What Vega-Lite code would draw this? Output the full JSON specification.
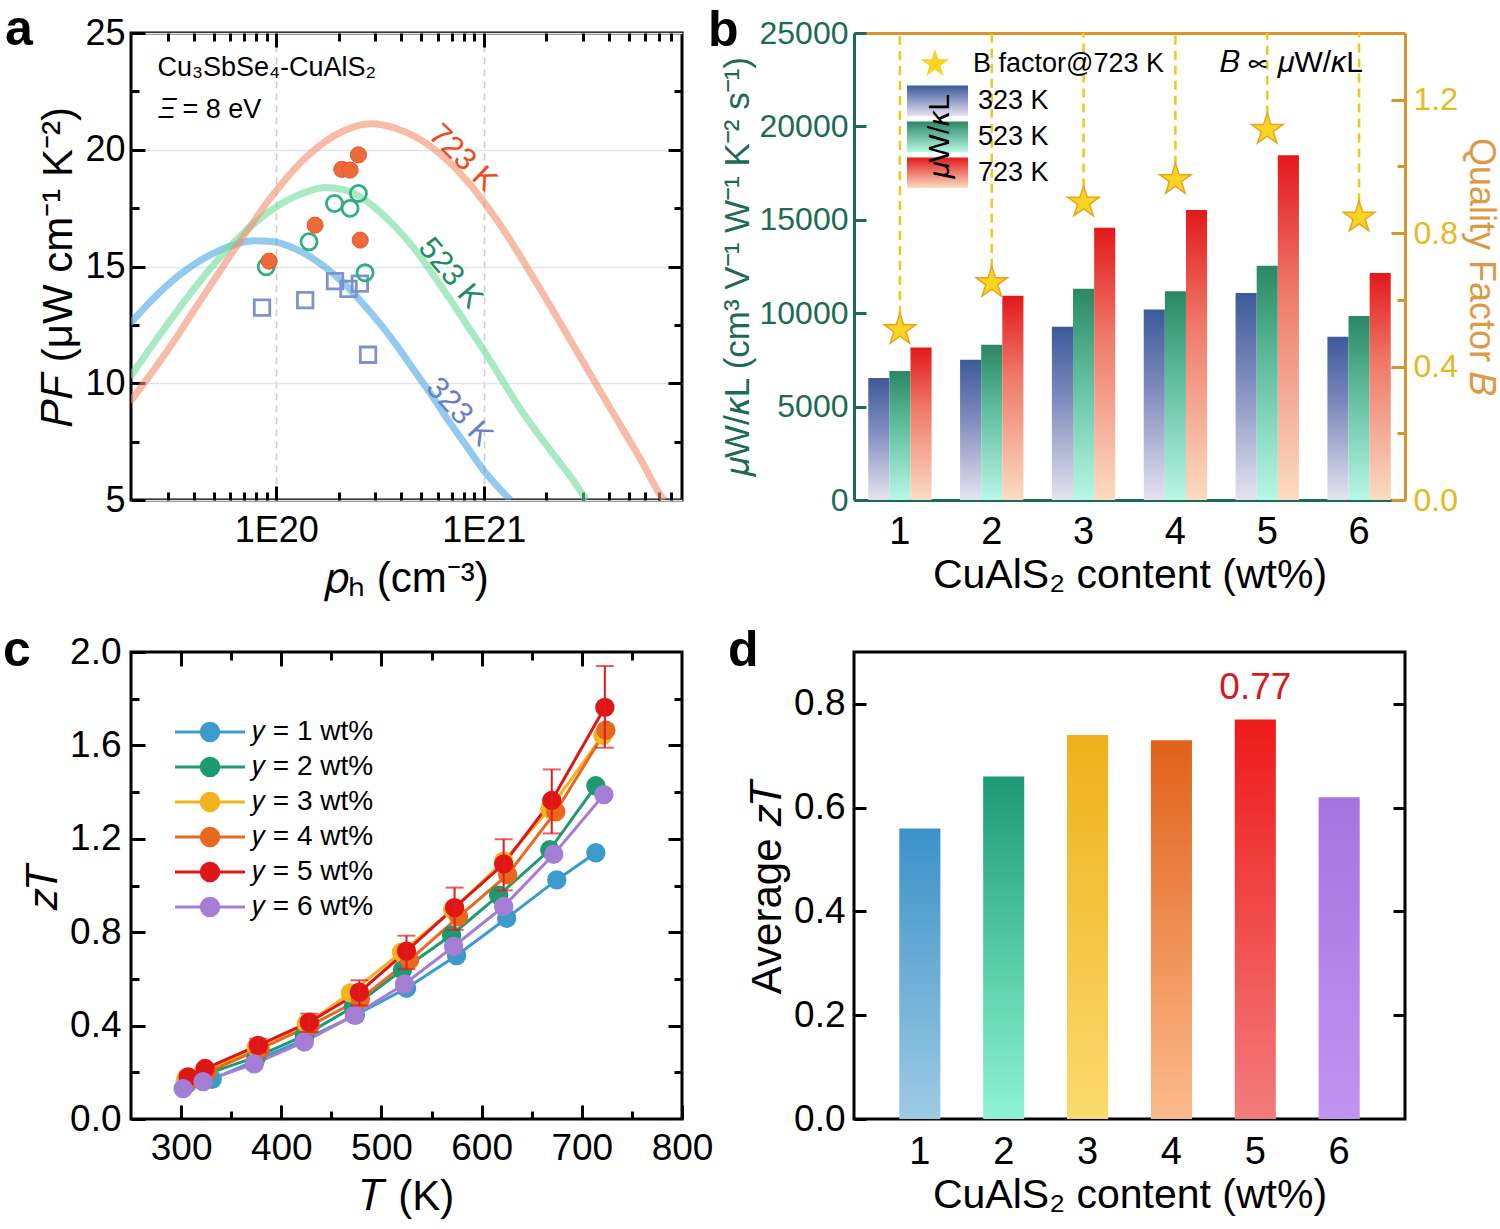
{
  "$schema": "https://vega.github.io/schema/vega-lite/v6.json",
  "background": "white",
  "padding": {"left": 1, "top": 3, "right": 5, "bottom": 5},
  "datasets": {
    "curves": [
      {"T": "323 K", "p": 1.977e19, "pf": 12.55}, {"T": "323 K", "p": 2.408e19, "pf": 13.38},
      {"T": "323 K", "p": 2.93e19, "pf": 14.13}, {"T": "323 K", "p": 3.565e19, "pf": 14.76},
      {"T": "323 K", "p": 4.335e19, "pf": 15.27}, {"T": "323 K", "p": 5.272e19, "pf": 15.67},
      {"T": "323 K", "p": 6.42e19, "pf": 15.96}, {"T": "323 K", "p": 7.81e19, "pf": 16.1},
      {"T": "323 K", "p": 9.5e19, "pf": 16.07}, {"T": "323 K", "p": 1.156e20, "pf": 15.87},
      {"T": "323 K", "p": 1.406e20, "pf": 15.5}, {"T": "323 K", "p": 1.71e20, "pf": 14.99},
      {"T": "323 K", "p": 2.083e20, "pf": 14.34}, {"T": "323 K", "p": 2.535e20, "pf": 13.55},
      {"T": "323 K", "p": 3.083e20, "pf": 12.67}, {"T": "323 K", "p": 3.75e20, "pf": 11.7},
      {"T": "323 K", "p": 4.56e20, "pf": 10.62}, {"T": "323 K", "p": 5.546e20, "pf": 9.55},
      {"T": "323 K", "p": 6.76e20, "pf": 8.4}, {"T": "323 K", "p": 8.22e20, "pf": 7.33},
      {"T": "323 K", "p": 1.0e21, "pf": 6.26}, {"T": "323 K", "p": 1.216e21, "pf": 5.4},
      {"T": "323 K", "p": 1.343e21, "pf": 5.0},
      {"T": "523 K", "p": 1.977e19, "pf": 10.26}, {"T": "523 K", "p": 2.93e19, "pf": 12.41},
      {"T": "523 K", "p": 4.335e19, "pf": 14.41}, {"T": "523 K", "p": 6.42e19, "pf": 16.13},
      {"T": "523 K", "p": 9.5e19, "pf": 17.42}, {"T": "523 K", "p": 1.406e20, "pf": 18.2},
      {"T": "523 K", "p": 1.71e20, "pf": 18.38}, {"T": "523 K", "p": 2.083e20, "pf": 18.3},
      {"T": "523 K", "p": 2.535e20, "pf": 17.99}, {"T": "523 K", "p": 3.083e20, "pf": 17.42},
      {"T": "523 K", "p": 3.75e20, "pf": 16.7}, {"T": "523 K", "p": 4.56e20, "pf": 15.84},
      {"T": "523 K", "p": 5.546e20, "pf": 14.81}, {"T": "523 K", "p": 6.76e20, "pf": 13.7},
      {"T": "523 K", "p": 8.22e20, "pf": 12.55}, {"T": "523 K", "p": 1.0e21, "pf": 11.41},
      {"T": "523 K", "p": 1.216e21, "pf": 10.19}, {"T": "523 K", "p": 1.479e21, "pf": 8.98},
      {"T": "523 K", "p": 1.801e21, "pf": 7.9}, {"T": "523 K", "p": 2.188e21, "pf": 6.9},
      {"T": "523 K", "p": 2.667e21, "pf": 5.9}, {"T": "523 K", "p": 3.119e21, "pf": 5.0},
      {"T": "723 K", "p": 1.977e19, "pf": 9.19}, {"T": "723 K", "p": 2.93e19, "pf": 11.27},
      {"T": "723 K", "p": 4.335e19, "pf": 13.56}, {"T": "723 K", "p": 6.42e19, "pf": 15.84},
      {"T": "723 K", "p": 9.5e19, "pf": 17.99}, {"T": "723 K", "p": 1.406e20, "pf": 19.71},
      {"T": "723 K", "p": 2.083e20, "pf": 20.78}, {"T": "723 K", "p": 2.851e20, "pf": 21.11},
      {"T": "723 K", "p": 3.75e20, "pf": 20.92}, {"T": "723 K", "p": 5.546e20, "pf": 20.14},
      {"T": "723 K", "p": 8.22e20, "pf": 18.71}, {"T": "723 K", "p": 1.216e21, "pf": 16.7},
      {"T": "723 K", "p": 1.801e21, "pf": 14.27}, {"T": "723 K", "p": 2.667e21, "pf": 11.7},
      {"T": "723 K", "p": 3.945e21, "pf": 9.12}, {"T": "723 K", "p": 5.848e21, "pf": 6.55},
      {"T": "723 K", "p": 7.112e21, "pf": 5.19}, {"T": "723 K", "p": 7.4e21, "pf": 5.0}
    ],
    "pts": [
      {"T": "723 K", "p": 9.25e19, "pf": 15.23}, {"T": "723 K", "p": 1.54e20, "pf": 16.77},
      {"T": "723 K", "p": 2.07e20, "pf": 19.16}, {"T": "723 K", "p": 2.27e20, "pf": 19.13},
      {"T": "723 K", "p": 2.49e20, "pf": 19.78}, {"T": "723 K", "p": 2.54e20, "pf": 16.13},
      {"T": "523 K", "p": 8.96e19, "pf": 14.99}, {"T": "523 K", "p": 1.44e20, "pf": 16.06},
      {"T": "523 K", "p": 1.91e20, "pf": 17.7}, {"T": "523 K", "p": 2.27e20, "pf": 17.49},
      {"T": "523 K", "p": 2.49e20, "pf": 18.13}, {"T": "523 K", "p": 2.68e20, "pf": 14.73},
      {"T": "323 K", "p": 8.55e19, "pf": 13.24}, {"T": "323 K", "p": 1.38e20, "pf": 13.56},
      {"T": "323 K", "p": 1.92e20, "pf": 14.37}, {"T": "323 K", "p": 2.23e20, "pf": 14.04},
      {"T": "323 K", "p": 2.53e20, "pf": 14.27}, {"T": "323 K", "p": 2.77e20, "pf": 11.22}
    ],
    "clabels": [
      {"T": "723 K", "p": 7.9e20, "pf": 19.64},
      {"T": "523 K", "p": 6.89e20, "pf": 14.7},
      {"T": "323 K", "p": 7.6e20, "pf": 8.76}
    ],
    "notes": [
      {"p": 2.68e19, "pf": 23.5, "txt": "Cu₃SbSe₄-CuAlS₂"},
      {"p": 2.7e19, "pf": 21.7, "txt": "𝛯 = 8 eV"}
    ],
    "bmob": [
      {"wt": "1", "T": "323 K", "v": 6530}, {"wt": "1", "T": "523 K", "v": 6900}, {"wt": "1", "T": "723 K", "v": 8170},
      {"wt": "2", "T": "323 K", "v": 7510}, {"wt": "2", "T": "523 K", "v": 8310}, {"wt": "2", "T": "723 K", "v": 10940},
      {"wt": "3", "T": "323 K", "v": 9280}, {"wt": "3", "T": "523 K", "v": 11310}, {"wt": "3", "T": "723 K", "v": 14570},
      {"wt": "4", "T": "323 K", "v": 10200}, {"wt": "4", "T": "523 K", "v": 11170}, {"wt": "4", "T": "723 K", "v": 15520},
      {"wt": "5", "T": "323 K", "v": 11080}, {"wt": "5", "T": "523 K", "v": 12540}, {"wt": "5", "T": "723 K", "v": 18450},
      {"wt": "6", "T": "323 K", "v": 8740}, {"wt": "6", "T": "523 K", "v": 9850}, {"wt": "6", "T": "723 K", "v": 12150}
    ],
    "bq": [
      {"wt": "1", "B": 0.51}, {"wt": "2", "B": 0.651}, {"wt": "3", "B": 0.892},
      {"wt": "4", "B": 0.96}, {"wt": "5", "B": 1.11}, {"wt": "6", "B": 0.847}
    ],
    "blegend": [
      {"T": "323 K", "wt": "1", "B": 1.1966},
      {"T": "523 K", "wt": "1", "B": 1.0889},
      {"T": "723 K", "wt": "1", "B": 0.9812}
    ],
    "btexts": [
      {"k": "formula", "wt": "5", "B": 1.31, "txt": "𝐵 ∝ 𝜇W/𝜅L"},
      {"k": "ratio", "wt": "1", "B": 1.089, "txt": "𝜇W/𝜅L"}
    ],
    "zt": [
      {"s": "1", "T": 306, "z": 0.15}, {"s": "1", "T": 331, "z": 0.17}, {"s": "1", "T": 374, "z": 0.25},
      {"s": "1", "T": 423, "z": 0.34}, {"s": "1", "T": 474, "z": 0.445}, {"s": "1", "T": 525, "z": 0.56},
      {"s": "1", "T": 575, "z": 0.7}, {"s": "1", "T": 625, "z": 0.86}, {"s": "1", "T": 675, "z": 1.024},
      {"s": "1", "T": 714, "z": 1.14},
      {"s": "2", "T": 305, "z": 0.166}, {"s": "2", "T": 324, "z": 0.19}, {"s": "2", "T": 375, "z": 0.266},
      {"s": "2", "T": 423, "z": 0.357}, {"s": "2", "T": 472, "z": 0.481}, {"s": "2", "T": 521, "z": 0.639},
      {"s": "2", "T": 570, "z": 0.788}, {"s": "2", "T": 617, "z": 0.958}, {"s": "2", "T": 668, "z": 1.153},
      {"s": "2", "T": 714, "z": 1.427},
      {"s": "3", "T": 305, "z": 0.175}, {"s": "3", "T": 322, "z": 0.2}, {"s": "3", "T": 375, "z": 0.307},
      {"s": "3", "T": 425, "z": 0.407}, {"s": "3", "T": 469, "z": 0.54}, {"s": "3", "T": 520, "z": 0.714},
      {"s": "3", "T": 571, "z": 0.896}, {"s": "3", "T": 622, "z": 1.104}, {"s": "3", "T": 668, "z": 1.328},
      {"s": "3", "T": 721, "z": 1.643},
      {"s": "4", "T": 310, "z": 0.17}, {"s": "4", "T": 326, "z": 0.2}, {"s": "4", "T": 379, "z": 0.3},
      {"s": "4", "T": 429, "z": 0.4}, {"s": "4", "T": 479, "z": 0.514}, {"s": "4", "T": 528, "z": 0.68},
      {"s": "4", "T": 577, "z": 0.866}, {"s": "4", "T": 626, "z": 1.046}, {"s": "4", "T": 674, "z": 1.316},
      {"s": "4", "T": 724, "z": 1.665},
      {"s": "5", "T": 307, "z": 0.18}, {"s": "5", "T": 324, "z": 0.216}, {"s": "5", "T": 377, "z": 0.315},
      {"s": "5", "T": 428, "z": 0.415}, {"s": "5", "T": 478, "z": 0.543}, {"s": "5", "T": 525, "z": 0.719},
      {"s": "5", "T": 573, "z": 0.905}, {"s": "5", "T": 622, "z": 1.092}, {"s": "5", "T": 670, "z": 1.364},
      {"s": "5", "T": 723, "z": 1.763},
      {"s": "6", "T": 302, "z": 0.13}, {"s": "6", "T": 322, "z": 0.16}, {"s": "6", "T": 373, "z": 0.236},
      {"s": "6", "T": 423, "z": 0.33}, {"s": "6", "T": 473, "z": 0.445}, {"s": "6", "T": 523, "z": 0.578},
      {"s": "6", "T": 572, "z": 0.739}, {"s": "6", "T": 622, "z": 0.91}, {"s": "6", "T": 672, "z": 1.134},
      {"s": "6", "T": 722, "z": 1.389}
    ],
    "err": [
      {"T": 377, "lo": 0.285, "hi": 0.344}, {"T": 428, "lo": 0.373, "hi": 0.451},
      {"T": 478, "lo": 0.486, "hi": 0.594}, {"T": 525, "lo": 0.642, "hi": 0.785},
      {"T": 573, "lo": 0.81, "hi": 0.991}, {"T": 622, "lo": 0.979, "hi": 1.198},
      {"T": 670, "lo": 1.223, "hi": 1.497}, {"T": 723, "lo": 1.59, "hi": 1.94}
    ],
    "avg": [
      {"wt": "1", "v": 0.56}, {"wt": "2", "v": 0.66}, {"wt": "3", "v": 0.74},
      {"wt": "4", "v": 0.73}, {"wt": "5", "v": 0.77}, {"wt": "6", "v": 0.62}
    ]
  },
  "concat": [
    {
      "width": 551,
      "height": 467,
      "title": {"text": "a", "frame": "group", "dx": -126, "dy": 44},
      "layer": [
        {
          "layer": [
            {
              "data": {"name": "curves"},
              "mark": {"type": "line", "strokeWidth": 7, "opacity": 0.6, "interpolate": "monotone", "clip": true},
              "encoding": {
                "x": {
                  "field": "p", "type": "quantitative",
                  "scale": {"type": "log", "domain": [2e19, 9e21], "nice": false},
                  "axis": {
                    "title": "𝑝ₕ (cm⁻³)",
                    "values": [3e19, 4e19, 5e19, 6e19, 7e19, 8e19, 9e19, 1e20, 2e20, 3e20, 4e20, 5e20, 6e20, 7e20, 8e20, 9e20, 1e21, 2e21, 3e21, 4e21, 5e21, 6e21, 7e21, 8e21],
                    "labelExpr": "abs(log(datum.value)/LN10 - round(log(datum.value)/LN10)) < 0.01 ? '1E' + round(log(datum.value)/LN10) : ''",
                    "tickSize": {"condition": {"test": "abs(log(datum.value)/LN10 - round(log(datum.value)/LN10)) < 0.01", "value": -14}, "value": -8},
                    "labelPadding": 27,
                    "grid": true, "gridDash": [7, 5], "gridColor": "#cccccc", "gridWidth": 1.5,
                    "gridOpacity": {"condition": {"test": "abs(log(datum.value)/LN10 - round(log(datum.value)/LN10)) < 0.01", "value": 1}, "value": 0}
                  }
                },
                "y": {
                  "field": "pf", "type": "quantitative",
                  "scale": {"domain": [5, 25], "nice": false},
                  "axis": {
                    "title": "𝑃𝐹 (μW cm⁻¹ K⁻²)",
                    "values": [5, 7.5, 10, 12.5, 15, 17.5, 20, 22.5, 25],
                    "labelExpr": "datum.value % 5 == 0 ? format(datum.value, 'd') : ''",
                    "tickSize": {"condition": {"test": "datum.value % 5 == 0", "value": -14}, "value": -8},
                    "labelPadding": 20,
                    "grid": true, "gridColor": "#dde5ee", "gridWidth": 1.5,
                    "gridOpacity": {"condition": {"test": "datum.value % 5 == 0", "value": 1}, "value": 0}
                  }
                },
                "color": {
                  "field": "T", "type": "nominal",
                  "scale": {"domain": ["323 K", "523 K", "723 K"], "range": ["#4aa8e2", "#6edc9c", "#f28f6c"]},
                  "legend": null
                }
              }
            },
            {
              "data": {"name": "pts"},
              "transform": [{"filter": "datum.T === '323 K'"}],
              "mark": {"type": "point", "shape": "square", "filled": false, "size": 240, "strokeWidth": 2.8, "color": "#7d93c9", "opacity": 1},
              "encoding": {"x": {"field": "p", "type": "quantitative"}, "y": {"field": "pf", "type": "quantitative"}}
            },
            {
              "data": {"name": "pts"},
              "transform": [{"filter": "datum.T === '523 K'"}],
              "mark": {"type": "point", "shape": "circle", "filled": false, "size": 260, "strokeWidth": 2.8, "color": "#33ae82", "opacity": 1},
              "encoding": {"x": {"field": "p", "type": "quantitative"}, "y": {"field": "pf", "type": "quantitative"}}
            },
            {
              "data": {"name": "pts"},
              "transform": [{"filter": "datum.T === '723 K'"}],
              "mark": {"type": "point", "shape": "circle", "filled": true, "size": 260, "fill": "#ee6a3a", "stroke": "#e0592a", "strokeWidth": 1, "opacity": 1},
              "encoding": {"x": {"field": "p", "type": "quantitative"}, "y": {"field": "pf", "type": "quantitative"}}
            },
            {
              "data": {"name": "clabels"},
              "transform": [{"filter": "datum.T === '723 K'"}],
              "mark": {"type": "text", "angle": 44, "fontSize": 31, "color": "#f04a1c"},
              "encoding": {"x": {"field": "p", "type": "quantitative"}, "y": {"field": "pf", "type": "quantitative"}, "text": {"field": "T"}}
            },
            {
              "data": {"name": "clabels"},
              "transform": [{"filter": "datum.T === '523 K'"}],
              "mark": {"type": "text", "angle": 50, "fontSize": 31, "color": "#1e8c64"},
              "encoding": {"x": {"field": "p", "type": "quantitative"}, "y": {"field": "pf", "type": "quantitative"}, "text": {"field": "T"}}
            },
            {
              "data": {"name": "clabels"},
              "transform": [{"filter": "datum.T === '323 K'"}],
              "mark": {"type": "text", "angle": 47, "fontSize": 31, "color": "#6a80c0"},
              "encoding": {"x": {"field": "p", "type": "quantitative"}, "y": {"field": "pf", "type": "quantitative"}, "text": {"field": "T"}}
            },
            {
              "data": {"name": "notes"},
              "mark": {"type": "text", "align": "left", "baseline": "middle", "fontSize": 27, "color": "black"},
              "encoding": {"x": {"field": "p", "type": "quantitative"}, "y": {"field": "pf", "type": "quantitative"}, "text": {"field": "txt"}}
            }
          ]
        },
        {
          "data": {"name": "curves"},
          "mark": {"type": "point", "opacity": 0},
          "encoding": {
            "x": {
              "field": "p", "type": "quantitative",
              "axis": {
                "orient": "top", "labels": false, "title": null,
                "values": [3e19, 4e19, 5e19, 6e19, 7e19, 8e19, 9e19, 1e20, 2e20, 3e20, 4e20, 5e20, 6e20, 7e20, 8e20, 9e20, 1e21, 2e21, 3e21, 4e21, 5e21, 6e21, 7e21, 8e21],
                "tickSize": {"condition": {"test": "abs(log(datum.value)/LN10 - round(log(datum.value)/LN10)) < 0.01", "value": -14}, "value": -8}
              }
            },
            "y": {
              "field": "pf", "type": "quantitative",
              "axis": {
                "orient": "right", "labels": false, "title": null,
                "values": [7.5, 10, 12.5, 15, 17.5, 20, 22.5],
                "tickSize": {"condition": {"test": "datum.value % 5 == 0", "value": -14}, "value": -8}
              }
            }
          }
        }
      ],
      "resolve": {"axis": {"x": "independent", "y": "independent"}}
    },
    {
      "width": 551,
      "height": 467,
      "title": {"text": "b", "frame": "group", "dx": -146, "dy": 43},
      "view": {"stroke": null},
      "layer": [
        {
          "data": {"name": "bmob"},
          "encoding": {
            "x": {
              "field": "wt", "type": "nominal",
              "scale": {"paddingInner": 0.31, "paddingOuter": 0.155},
              "axis": {"title": "CuAlS₂ content (wt%)", "labelAngle": 0, "ticks": false, "domain": true, "domainColor": "#1d6b55", "domainWidth": 3, "labelFontSize": 38, "labelPadding": 13, "titleFontSize": 41}
            },
            "xOffset": {"field": "T", "type": "nominal", "scale": {"domain": ["323 K", "523 K", "723 K"], "paddingInner": 0, "paddingOuter": 0}},
            "y": {
              "field": "v", "type": "quantitative",
              "scale": {"domain": [0, 25000]},
              "axis": {
                "title": "𝜇W/𝜅L (cm³ V⁻¹ W⁻¹ K⁻² s⁻¹)",
                "values": [0, 5000, 10000, 15000, 20000, 25000], "format": "d",
                "tickSize": -12, "tickColor": "#1d6b55", "labelPadding": 18,
                "domain": true, "domainColor": "#1d6b55", "domainWidth": 3,
                "labelColor": "#1d6b55", "titleColor": "#1d6b55", "labelFontSize": 32, "titleFontSize": 35
              }
            }
          },
          "layer": [
            {
              "transform": [{"filter": "datum.T === '323 K'"}],
              "mark": {"type": "bar", "fill": {"gradient": "linear", "x1": 0, "y1": 0, "x2": 0, "y2": 1, "stops": [{"offset": 0, "color": "#3c5a9c"}, {"offset": 0.4, "color": "#7b88bb"}, {"offset": 1, "color": "#e6e3f0"}]}}
            },
            {
              "transform": [{"filter": "datum.T === '523 K'"}],
              "mark": {"type": "bar", "fill": {"gradient": "linear", "x1": 0, "y1": 0, "x2": 0, "y2": 1, "stops": [{"offset": 0, "color": "#2b8765"}, {"offset": 0.4, "color": "#5dbb9b"}, {"offset": 1, "color": "#b8f7e6"}]}}
            },
            {
              "transform": [{"filter": "datum.T === '723 K'"}],
              "mark": {"type": "bar", "fill": {"gradient": "linear", "x1": 0, "y1": 0, "x2": 0, "y2": 1, "stops": [{"offset": 0, "color": "#e3191b"}, {"offset": 0.4, "color": "#ef7a6a"}, {"offset": 1, "color": "#fbdcc2"}]}}
            }
          ]
        },
        {
          "data": {"name": "bq"},
          "encoding": {
            "x": {"field": "wt", "type": "nominal", "axis": {"orient": "top", "labels": false, "ticks": false, "title": null, "domain": true, "domainColor": "#d8952e", "domainWidth": 3}},
            "y": {
              "field": "B", "type": "quantitative",
              "scale": {"domain": [0, 1.4]},
              "axis": {
                "orient": "right", "title": "Quality Factor 𝐵",
                "values": [0, 0.2, 0.4, 0.6, 0.8, 1, 1.2],
                "labelExpr": "round(datum.value*10) % 4 == 0 ? format(datum.value, '.1f') : ''",
                "tickSize": {"condition": {"test": "round(datum.value*10) % 4 == 0", "value": -14}, "value": -8},
                "labelPadding": 22, "titlePadding": 4,
                "tickColor": "#d8952e", "domain": true, "domainColor": "#d8952e", "domainWidth": 3,
                "labelColor": "#e8b820", "titleColor": "#dc9a45", "labelFontSize": 32, "titleFontSize": 36
              }
            }
          },
          "layer": [
            {
              "mark": {"type": "rule", "strokeDash": [9, 6], "color": "#f5c51a", "strokeWidth": 2.5},
              "encoding": {"y2": {"datum": 1.4}}
            },
            {
              "mark": {"type": "point", "filled": true, "fill": "#f9d423", "stroke": "#e6a51c", "strokeWidth": 1.5, "size": 1100, "opacity": 1},
              "encoding": {
                "shape": {
                  "datum": "B factor@723 K", "type": "nominal",
                  "scale": {"range": ["M0,-1L0.2245,-0.309L0.9511,-0.309L0.3633,0.118L0.5878,0.809L0,0.382L-0.5878,0.809L-0.3633,0.118L-0.9511,-0.309L-0.2245,-0.309Z"]},
                  "legend": {"orient": "none", "legendX": 65, "legendY": 15, "title": null, "symbolSize": 900, "symbolFillColor": "#f9d423", "symbolStrokeColor": "#e6a51c", "symbolOpacity": 1, "labelFontSize": 27, "labelOffset": 22}
                }
              }
            },
            {
              "data": {"name": "blegend"},
              "transform": [{"filter": "datum.T === '323 K'"}],
              "mark": {"type": "point", "shape": "M-1,-0.5H1V0.5H-1Z", "size": 3721, "filled": true, "opacity": 1, "strokeWidth": 0, "fill": {"gradient": "linear", "x1": 0, "y1": 0, "x2": 0, "y2": 1, "stops": [{"offset": 0, "color": "#3c5a9c"}, {"offset": 1, "color": "#e6e3f0"}]}},
              "encoding": {"x": {"field": "wt", "type": "nominal", "bandPosition": 1.093}}
            },
            {
              "data": {"name": "blegend"},
              "transform": [{"filter": "datum.T === '523 K'"}],
              "mark": {"type": "point", "shape": "M-1,-0.5H1V0.5H-1Z", "size": 3721, "filled": true, "opacity": 1, "strokeWidth": 0, "fill": {"gradient": "linear", "x1": 0, "y1": 0, "x2": 0, "y2": 1, "stops": [{"offset": 0, "color": "#2b8765"}, {"offset": 1, "color": "#b8f7e6"}]}},
              "encoding": {"x": {"field": "wt", "type": "nominal", "bandPosition": 1.093}}
            },
            {
              "data": {"name": "blegend"},
              "transform": [{"filter": "datum.T === '723 K'"}],
              "mark": {"type": "point", "shape": "M-1,-0.5H1V0.5H-1Z", "size": 3721, "filled": true, "opacity": 1, "strokeWidth": 0, "fill": {"gradient": "linear", "x1": 0, "y1": 0, "x2": 0, "y2": 1, "stops": [{"offset": 0, "color": "#e3191b"}, {"offset": 1, "color": "#fbdcc2"}]}},
              "encoding": {"x": {"field": "wt", "type": "nominal", "bandPosition": 1.093}}
            },
            {
              "data": {"name": "blegend"},
              "mark": {"type": "text", "align": "left", "baseline": "middle", "fontSize": 27, "color": "black"},
              "encoding": {"x": {"field": "wt", "type": "nominal", "bandPosition": 1.733}, "text": {"field": "T"}}
            },
            {
              "data": {"name": "btexts"},
              "transform": [{"filter": "datum.k === 'ratio'"}],
              "mark": {"type": "text", "fontSize": 30, "color": "black", "baseline": "middle", "align": "center", "angle": 270},
              "encoding": {"x": {"field": "wt", "type": "nominal", "bandPosition": 1.13}, "text": {"field": "txt"}}
            },
            {
              "data": {"name": "btexts"},
              "transform": [{"filter": "datum.k === 'formula'"}],
              "mark": {"type": "text", "fontSize": 30, "color": "black", "baseline": "middle"},
              "encoding": {"x": {"field": "wt", "type": "nominal", "bandPosition": 0.88}, "text": {"field": "txt"}}
            }
          ]
        }
      ],
      "resolve": {"scale": {"y": "independent"}, "axis": {"x": "independent", "y": "independent"}}
    },
    {
      "width": 551,
      "height": 467,
      "title": {"text": "c", "frame": "group", "dx": -128, "dy": 47},
      "layer": [
        {
          "data": {"name": "zt"},
          "encoding": {
            "x": {
              "field": "T", "type": "quantitative",
              "scale": {"domain": [250, 800]},
              "axis": {
                "title": "𝑇 (K)",
                "values": [300, 350, 400, 450, 500, 550, 600, 650, 700, 750, 800],
                "labelExpr": "datum.value % 100 == 0 ? datum.value : ''",
                "tickSize": {"condition": {"test": "datum.value % 100 == 0", "value": -14}, "value": -8},
                "labelPadding": 25,
                "labelFontSize": 37, "titleFontSize": 42
              }
            },
            "y": {
              "field": "z", "type": "quantitative",
              "scale": {"domain": [0, 2]},
              "axis": {
                "title": "𝑧𝑇",
                "values": [0, 0.2, 0.4, 0.6, 0.8, 1, 1.2, 1.4, 1.6, 1.8, 2],
                "labelExpr": "round(datum.value*10) % 4 == 0 ? format(datum.value, '.1f') : ''",
                "tickSize": {"condition": {"test": "round(datum.value*10) % 4 == 0", "value": -14}, "value": -8},
                "labelPadding": 24,
                "labelFontSize": 37, "titleFontSize": 42
              }
            }
          },
          "layer": [
            {
              "mark": {"type": "line", "strokeWidth": 3},
              "encoding": {
                "stroke": {
                  "field": "s", "type": "nominal",
                  "scale": {"domain": ["1", "2", "3", "4", "5", "6"], "range": ["#3a9bcc", "#1d9a72", "#f2b41e", "#e8681e", "#e01616", "#a47ed4"]},
                  "legend": {
                    "orient": "none", "legendX": 60, "legendY": 61, "title": null,
                    "labelExpr": "'𝑦 = ' + datum.label + ' wt%'",
                    "symbolType": "M-2,0H2M0.5,0A0.5,0.5,0,1,1,-0.5,0A0.5,0.5,0,1,1,0.5,0",
                    "symbolSize": 1225, "symbolStrokeWidth": 3, "symbolOpacity": 1,
                    "labelFontSize": 28, "rowPadding": 1, "labelOffset": 23
                  }
                }
              }
            },
            {
              "mark": {"type": "point", "shape": "circle", "filled": true, "size": 320, "opacity": 1, "strokeWidth": 1.5},
              "encoding": {
                "fill": {
                  "field": "s", "type": "nominal",
                  "scale": {"domain": ["1", "2", "3", "4", "5", "6"], "range": ["#3a9bcc", "#1d9a72", "#f2b41e", "#e8681e", "#e01616", "#a47ed4"]},
                  "legend": null
                },
                "stroke": {"field": "s", "type": "nominal"}
              }
            },
            {
              "data": {"name": "err"},
              "mark": {"type": "rule", "color": "#e01b1b", "strokeWidth": 2},
              "encoding": {"y": {"field": "lo", "type": "quantitative"}, "y2": {"field": "hi"}}
            },
            {
              "data": {"name": "err"},
              "mark": {"type": "tick", "orient": "horizontal", "color": "#e01b1b", "size": 18, "thickness": 2},
              "encoding": {"y": {"field": "lo", "type": "quantitative"}}
            },
            {
              "data": {"name": "err"},
              "mark": {"type": "tick", "orient": "horizontal", "color": "#e01b1b", "size": 18, "thickness": 2},
              "encoding": {"y": {"field": "hi", "type": "quantitative"}}
            }
          ]
        },
        {
          "data": {"name": "zt"},
          "mark": {"type": "point", "opacity": 0},
          "encoding": {
            "x": {
              "field": "T", "type": "quantitative",
              "axis": {"orient": "top", "labels": false, "title": null, "values": [300, 350, 400, 450, 500, 550, 600, 650, 700, 750], "tickSize": {"condition": {"test": "datum.value % 100 == 0", "value": -14}, "value": -8}}
            },
            "y": {
              "field": "z", "type": "quantitative",
              "axis": {"orient": "right", "labels": false, "title": null, "values": [0.2, 0.4, 0.6, 0.8, 1, 1.2, 1.4, 1.6, 1.8], "tickSize": {"condition": {"test": "round(datum.value*10) % 4 == 0", "value": -14}, "value": -8}}
            }
          }
        }
      ],
      "resolve": {"axis": {"x": "independent", "y": "independent"}}
    },
    {
      "width": 551,
      "height": 467,
      "title": {"text": "d", "frame": "group", "dx": -126, "dy": 28},
      "layer": [
        {
          "data": {"name": "avg"},
          "encoding": {
            "x": {
              "field": "wt", "type": "nominal",
              "scale": {"paddingInner": 0.51, "paddingOuter": 0.54},
              "axis": {"title": "CuAlS₂ content (wt%)", "labelAngle": 0, "ticks": false, "labelFontSize": 38, "labelPadding": 14, "titleFontSize": 41}
            },
            "y": {
              "field": "v", "type": "quantitative",
              "scale": {"domain": [0, 0.9]},
              "axis": {"title": "Average 𝑧𝑇", "values": [0, 0.2, 0.4, 0.6, 0.8], "format": ".1f", "tickSize": -12, "labelPadding": 21, "labelFontSize": 37, "titleFontSize": 42}
            }
          },
          "layer": [
            {"transform": [{"filter": "datum.wt === '1'"}], "mark": {"type": "bar", "fill": {"gradient": "linear", "x1": 0, "y1": 0, "x2": 0, "y2": 1, "stops": [{"offset": 0, "color": "#3b91c8"}, {"offset": 1, "color": "#9ecbe4"}]}}},
            {"transform": [{"filter": "datum.wt === '2'"}], "mark": {"type": "bar", "fill": {"gradient": "linear", "x1": 0, "y1": 0, "x2": 0, "y2": 1, "stops": [{"offset": 0, "color": "#1c9a74"}, {"offset": 0.6, "color": "#5fd2ac"}, {"offset": 1, "color": "#8ef3d4"}]}}},
            {"transform": [{"filter": "datum.wt === '3'"}], "mark": {"type": "bar", "fill": {"gradient": "linear", "x1": 0, "y1": 0, "x2": 0, "y2": 1, "stops": [{"offset": 0, "color": "#eeb11a"}, {"offset": 1, "color": "#fada6e"}]}}},
            {"transform": [{"filter": "datum.wt === '4'"}], "mark": {"type": "bar", "fill": {"gradient": "linear", "x1": 0, "y1": 0, "x2": 0, "y2": 1, "stops": [{"offset": 0, "color": "#e0611a"}, {"offset": 1, "color": "#fcbb8c"}]}}},
            {"transform": [{"filter": "datum.wt === '5'"}], "mark": {"type": "bar", "fill": {"gradient": "linear", "x1": 0, "y1": 0, "x2": 0, "y2": 1, "stops": [{"offset": 0, "color": "#ee1a1a"}, {"offset": 1, "color": "#f47c7c"}]}}},
            {"transform": [{"filter": "datum.wt === '6'"}], "mark": {"type": "bar", "fill": {"gradient": "linear", "x1": 0, "y1": 0, "x2": 0, "y2": 1, "stops": [{"offset": 0, "color": "#a574df"}, {"offset": 1, "color": "#c393f1"}]}}},
            {
              "transform": [{"filter": "datum.wt === '5'"}],
              "mark": {"type": "text", "fontSize": 37, "color": "#d41a1a", "baseline": "middle"},
              "encoding": {"y": {"datum": 0.83}, "text": {"field": "v", "format": ".2f"}}
            }
          ]
        },
        {
          "data": {"name": "avg"},
          "mark": {"type": "point", "opacity": 0},
          "encoding": {
            "x": {"field": "wt", "type": "nominal", "axis": {"orient": "top", "labels": false, "ticks": false, "title": null, "domain": false}},
            "y": {"field": "v", "type": "quantitative", "axis": {"orient": "right", "labels": false, "title": null, "values": [0.2, 0.4, 0.6, 0.8], "tickSize": -12}}
          }
        }
      ],
      "resolve": {"axis": {"x": "independent", "y": "independent"}}
    }
  ],
  "columns": 2,
  "spacing": {"row": 152, "column": 172},
  "bounds": "flush",
  "resolve": {"scale": {"color": "independent", "fill": "independent", "stroke": "independent", "shape": "independent"}},
  "config": {
    "font": "Liberation Sans",
    "view": {"stroke": "black", "strokeWidth": 3},
    "axis": {
      "labelFont": "Liberation Sans", "titleFont": "Liberation Sans",
      "labelFontSize": 36, "titleFontSize": 42, "titleFontWeight": "normal",
      "labelColor": "black", "titleColor": "black", "tickColor": "black", "tickWidth": 3,
      "domain": false, "grid": false, "labelFlush": false, "labelOverlap": false, "labelPadding": 6
    },
    "legend": {"labelFont": "Liberation Sans", "labelFontSize": 28, "labelColor": "black", "titleFont": "Liberation Sans", "labelLimit": 0},
    "title": {"font": "Liberation Sans", "fontSize": 50, "fontWeight": "bold", "anchor": "start", "color": "black"},
    "text": {"font": "Liberation Sans"}
  }
}
